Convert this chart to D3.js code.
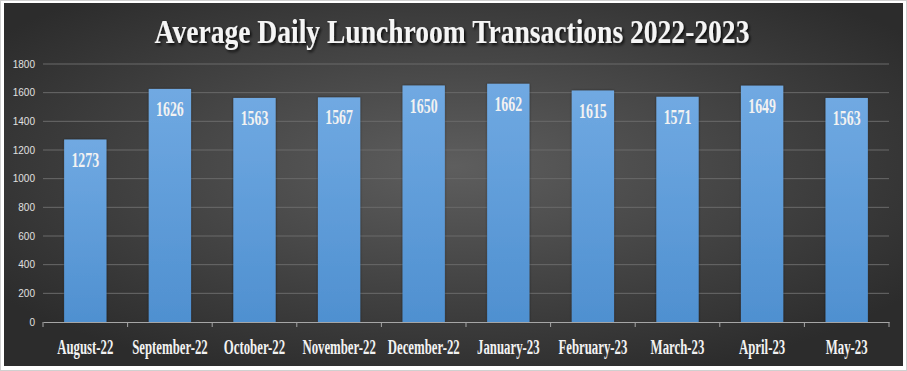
<!DOCTYPE html>
<html><head><meta charset="utf-8">
<script src="https://cdn.jsdelivr.net/npm/d3@7"></script>
<style>html,body{margin:0;padding:0;background:#fff;}svg{display:block;}</style>
</head><body>
<svg id="c" width="907" height="371"></svg>
<script>
const categories = ["August-22","September-22","October-22","November-22","December-22","January-23","February-23","March-23","April-23","May-23"];
const values = [1273,1626,1563,1567,1650,1662,1615,1571,1649,1563];
const yTicks = [0,200,400,600,800,1000,1200,1400,1600,1800];
const title = "Average Daily Lunchroom Transactions 2022-2023";

const svg = d3.select("#c");
const defs = svg.append("defs");
const rg = defs.append("radialGradient").attr("id","bg").attr("cx","50%").attr("cy","45%").attr("r","62%")
  .attr("gradientUnits","objectBoundingBox");
rg.append("stop").attr("offset","0%").attr("stop-color","#5e5e5e");
rg.append("stop").attr("offset","100%").attr("stop-color","#2c2c2c");
const bg = defs.append("linearGradient").attr("id","bar").attr("x1",0).attr("y1",0).attr("x2",0).attr("y2",1);
bg.append("stop").attr("offset","0%").attr("stop-color","#70a9e2");
bg.append("stop").attr("offset","100%").attr("stop-color","#4f90d0");
const f = defs.append("filter").attr("id","sh").attr("x","-10%").attr("y","-30%").attr("width","120%").attr("height","160%");
f.append("feDropShadow").attr("dx",2).attr("dy",2).attr("stdDeviation",1.5).attr("flood-color","#000").attr("flood-opacity",0.8);
const f2 = defs.append("filter").attr("id","bsh").attr("x","-20%").attr("y","-5%").attr("width","140%").attr("height","110%");
f2.append("feDropShadow").attr("dx",0).attr("dy",0).attr("stdDeviation",1).attr("flood-color","#1a1a1a").attr("flood-opacity",0.6);

svg.append("rect").attr("x",0.5).attr("y",0.5).attr("width",906).attr("height",370).attr("fill","#fff").attr("stroke","#d0d0d0");
svg.append("rect").attr("x",4).attr("y",3).attr("width",899).attr("height",363).attr("fill","url(#bg)");

const m = {left:43, right:889, top:64, bottom:322};
const x = d3.scaleBand().domain(categories).range([m.left,m.right]).paddingInner(0.5).paddingOuter(0.25);
const y = d3.scaleLinear().domain([0,1800]).range([m.bottom,m.top]);

// gridlines
svg.append("g").selectAll("line").data(yTicks.filter(d=>d>0)).join("line")
  .attr("x1",m.left).attr("x2",m.right).attr("y1",d=>y(d)).attr("y2",d=>y(d))
  .attr("stroke","#6a6a6a").attr("stroke-width",1);

// y labels
svg.append("g").selectAll("text").data(yTicks).join("text")
  .attr("x",35).attr("y",d=>y(d)).attr("dy","0.35em").attr("text-anchor","end")
  .attr("font-family","Liberation Sans, Arial, sans-serif").attr("font-size",10).attr("fill","#e0e0e0")
  .text(d=>d);

// bars
svg.append("g").selectAll("rect").data(values).join("rect")
  .attr("x",(d,i)=>x(categories[i])).attr("width",x.bandwidth())
  .attr("y",d=>y(d)).attr("height",d=>y(0)-y(d))
  .attr("fill","url(#bar)").attr("filter","url(#bsh)");

// x axis
const xa = svg.append("g").attr("transform",`translate(0,${m.bottom})`)
  .call(d3.axisBottom(x).tickSize(0).tickFormat(""));
xa.select(".domain").attr("stroke","#a6a6a6");
svg.append("g").selectAll("line").data(d3.range(categories.length+1)).join("line")
  .attr("x1",i=>m.left+i*(m.right-m.left)/categories.length).attr("x2",i=>m.left+i*(m.right-m.left)/categories.length)
  .attr("y1",m.bottom).attr("y2",m.bottom+5).attr("stroke","#a6a6a6");

const serif = "Liberation Serif, Times New Roman, serif";

// value labels (condensed via horizontal scale)
svg.append("g").selectAll("text").data(values).join("text")
  .attr("transform",(d,i)=>`translate(${x(categories[i])+x.bandwidth()/2},${y(d)+27}) scale(0.66,1)`)
  .attr("text-anchor","middle").attr("font-family",serif).attr("font-weight","bold")
  .attr("font-size",21).attr("fill","#f2f2f2").text(d=>d);

// category labels
svg.append("g").selectAll("text").data(categories).join("text")
  .attr("transform",d=>`translate(${x(d)+x.bandwidth()/2},354) scale(0.64,1)`)
  .attr("text-anchor","middle").attr("font-family",serif).attr("font-weight","bold")
  .attr("font-size",20).attr("fill","#f2f2f2").text(d=>d);

// title
const t = svg.append("text").attr("text-anchor","middle")
  .attr("font-family",serif).attr("font-weight","bold").attr("font-size",33)
  .attr("fill","#f5f5f5").attr("filter","url(#sh)").text(title);
const tw = t.node().getComputedTextLength();
t.attr("transform",`translate(452,43) scale(${595/tw},1)`);
</script>
</body></html>
